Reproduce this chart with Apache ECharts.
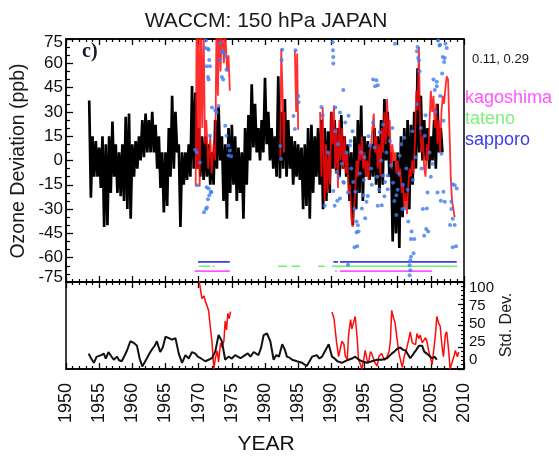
<!DOCTYPE html>
<html><head><meta charset="utf-8">
<script src="https://cdn.jsdelivr.net/npm/echarts@6/dist/echarts.min.js"></script>
<style>html,body{margin:0;padding:0;background:#fff}#c{width:559px;height:462px}</style>
</head><body><div id="c"></div>
<script>
// ---------- DATA ----------
const xTicks = [1950,1955,1960,1965,1970,1975,1980,1985,1990,1995,2000,2005,2010];
const devTicks = [-75,-60,-45,-30,-15,0,15,30,45,60,75];
const sdTicks = [0,25,50,75,100];

// WACCM model deviation (ppb), quarter-year samples starting 1953.5
const modelStart = 1953.5, modelStep = 0.25;
const modelDev = [
 37,-23, 15,-10, 12,-10, 8,-17, 15,-41, 10,-40, 15,-20, 24,-10, 10,-20, 5,-22,
 10,-25, 27,-30, 29,-36, 10,-10, 12,-5, 15,0, 25,2, 29,5, 25,5, 30,5,
 22,-5, 15,-17, 5,-32, 5,-28, 20,-10, 40,-5, 30,5, 10,-41, 5,-15, 5,-12,
 10,-10, 46,-5, 42,-5, 20,-10, 15,-12, 15,-10, 10,-15, 5,-15, 25,-5, 33,0,
 15,-25, 10,-36, 20,-20, 22,-15, 15,-25, 8,-20, 5,-36, 20,-15, 28,0, 47,8,
 35,5, 20,0, 25,5, 51,10, 30,0, 20,-5, 15,-10, 52,-11, 30,-5, 38,-10,
 25,-5, 15,-15, 12,-10, 10,-12, 8,-30, 10,-28, 20,-36, 22,-20, 15,-10, 20,-15,
 25,-30, 20,-25, 18,-20, 30,-5, 25,-8, 20,-10, 28,-5, 15,-10, 10,-25, 5,-40,
 15,-30, 25,-20, 34,-25, 15,-10, 12,-12, 10,-10, 20,-15, 15,-20, 25,-15, 38,0,
 30,-10, 5,-50, 0,-45, 5,-54, 15,-35, 20,-25, 25,-30, 22,-15, 30,-5, 57,5,
 40,0, 25,0, 20,-5, 15,0, 25,-5, 35,5, 20,5
];

// Observed (smoothed) deviation, red segments [year, ppb]
const obsRed1 = [[1969.55,-16],[1969.7,90],[1969.85,-5],[1970.0,90],[1970.15,-16],[1970.35,85],[1970.55,20],[1970.75,80],[1970.95,10],[1971.15,25],[1971.45,-5],[1971.75,15],[1971.95,-8],[1972.25,10],[1972.5,0],[1972.7,90],[1972.9,40],[1973.1,90],[1973.3,55],[1973.5,85],[1973.8,60],[1974.0,80],[1974.3,55],[1974.5,65],[1974.7,43]];
const obsRed2 = [[1982.3,2],[1982.45,69],[1982.65,40],[1982.85,5],[1982.95,30]];
const obsRed3 = [[1984.5,68],[1984.7,30],[1984.85,66],[1985.0,19]];
const obsRed4 = [[1988.3,30],[1988.5,-10],[1988.7,33],[1989.0,-25],[1989.2,10],[1989.4,-20],[1989.6,5],[1989.8,-15],[1990.0,30],[1990.2,10],[1990.4,34],[1990.6,-5],[1990.8,20],[1991.0,-17],[1991.2,25],[1991.4,0],[1991.6,20],[1991.8,-5],[1992.0,15],[1992.2,-8],[1992.4,5],[1992.6,-20],[1992.8,-15],[1993.0,-35],[1993.2,-41],[1993.4,-30],[1993.6,-20],[1993.8,0],[1994.0,-10],[1994.2,10],[1994.4,0],[1994.6,15],[1994.8,-5],[1995.0,5],[1995.2,-10],[1995.4,0],[1995.6,-12],[1995.8,5],[1996.0,10],[1996.2,20],[1996.4,29],[1996.6,5],[1996.8,15],[1997.0,-5],[1997.2,10],[1997.4,-10],[1997.6,20],[1997.8,5],[1998.0,30],[1998.2,10],[1998.4,38],[1998.6,15],[1998.8,25],[1999.0,-5],[1999.2,10],[1999.4,0],[1999.6,5],[1999.8,-8],[2000.0,0],[2000.2,-10],[2000.4,-5],[2000.6,-20],[2000.8,-15],[2001.0,-30],[2001.2,-20],[2001.4,-33],[2001.6,-15],[2001.8,-5],[2002.0,-10],[2002.2,0],[2002.4,-8],[2002.6,10],[2002.8,43],[2003.0,31],[2003.2,70],[2003.4,20],[2003.6,5],[2003.8,15],[2004.0,-5],[2004.2,-10],[2004.4,10],[2004.6,0],[2004.8,24],[2005.0,43],[2005.2,30],[2005.4,40],[2005.6,20],[2005.8,35],[2006.0,10],[2006.2,25],[2006.4,5],[2006.6,30],[2006.8,40],[2007.0,35],[2007.2,45],[2007.4,52],[2007.6,50],[2007.8,20],[2008.0,-10],[2008.2,-25],[2008.4,-30],[2008.6,-35]];

// Individual ozonesonde points (blue dots) [year, ppb]
const obsDots = [[1969.45,6.7],[1969.7,5.1],[1969.85,-15.3],[1970.2,-1.2],[1970.8,-32],[1971.0,69.4],[1971.1,74],[1971.1,-30],[1971.2,58.2],[1971.2,-16.5],[1971.25,-29],[1971.4,69],[1971.4,51.6],[1971.4,-23.9],[1971.5,68.4],[1971.5,50],[1971.5,-17.3],[1971.6,62],[1971.6,-21.4],[1971.7,58.2],[1971.7,15.3],[1971.85,-19.3],[1971.9,-19.6],[1972.0,32.7],[1972.5,31],[1972.7,29.6],[1973.0,33.7],[1973.2,72.5],[1973.2,62],[1973.5,67.4],[1973.5,51.6],[1973.7,50],[1973.7,67],[1974.0,64.3],[1974.0,21.4],[1974.2,56.1],[1974.2,15.3],[1974.5,9.2],[1974.5,3.1],[1974.7,6.1],[1974.9,2.6],
[1982.3,9],[1982.4,1],[1982.5,62],[1982.6,68.4],[1984.3,27.5],[1984.5,19.4],[1984.6,68],[1985.0,39.8],[1985.05,36],[1988.5,33],[1988.7,28],[1989.0,-28],[1989.5,5],
[1990.2,73],[1990.25,68],[1990.3,63.9],[1990.3,59.8],[1990.3,-18.8],[1990.5,-28],[1990.6,32.7],[1990.6,18],[1990.8,-7],[1990.9,-24.9],[1991.0,10],[1991.1,-10],[1991.3,29.6],[1991.3,-23.5],[1991.6,-2],[1991.8,43.5],[1991.8,-13.3],[1991.9,-13.7],[1992.1,23.5],[1992.3,5],[1992.5,-19.8],[1992.5,-64.3],[1992.6,27.6],[1992.8,9.2],[1992.9,12],[1993.0,-5],[1993.2,18],[1993.3,-13.3],[1993.5,-30],[1993.5,-53.5],[1993.6,-19.3],[1993.8,-37.7],[1993.8,-44.3],[1993.9,-53],[1994.0,-40],[1994.1,-43.9],[1994.3,-8],[1994.5,5],[1994.6,-29.6],[1994.8,-21.4],[1994.9,-12],[1995.0,2],[1995.1,-35.7],[1995.3,-25.5],[1995.5,-21.9],[1995.6,15],[1995.8,9.2],[1996.0,-5],[1996.1,-15],[1996.3,50],[1996.3,23.5],[1996.5,8],[1996.6,45.9],[1996.8,49.6],[1996.9,-10],[1997.0,46.5],[1997.0,-28],[1997.2,-18],[1997.3,17.4],[1997.5,0],[1997.6,-27.6],[1997.8,-9.2],[1997.8,22],[1998.0,-22],[1998.1,-13.3],[1998.3,5],[1998.5,-9.2],[1998.5,-17.8],[1998.8,12],[1999.0,-3],[1999.2,20],[1999.3,-13.7],[1999.5,-25],[1999.6,72],[1999.8,-21.4],[1999.8,-33.7],[2000.0,-18],[2000.2,-8],[2000.3,3],[2000.5,10],[2000.7,-30],[2000.8,-15],[2001.0,14],[2001.1,-29.6],[2001.3,-5],[2001.5,-18],[2001.6,-37.7],[2001.8,-64.7],[2001.8,-70.8],[2001.9,-61.7],[2001.9,-67.8],[2002.0,-59.4],[2002.0,-48.4],[2002.1,-43.9],[2002.2,18],[2002.3,-12],[2002.4,-57.3],[2002.5,-48.4],[2002.7,2],[2002.9,67.4],[2002.9,34.7],[2003.0,70],[2003.1,63.3],[2003.2,61.8],[2003.3,55.1],[2003.5,20],[2003.6,-5],[2003.8,-30],[2004.0,-46.4],[2004.1,15.3],[2004.2,28],[2004.3,-42.3],[2004.4,-29.6],[2004.5,-19.8],[2004.6,-43.9],[2004.8,5],[2005.0,-10],[2005.2,-2],[2005.4,50],[2005.6,43.5],[2005.7,30],[2005.9,48.6],[2005.9,45.9],[2006.0,-19.8],[2006.1,74],[2006.3,71],[2006.4,71.4],[2006.4,39.8],[2006.5,-24.9],[2006.6,4.1],[2006.7,53.7],[2006.8,63.9],[2006.9,24.5],[2006.9,-19.3],[2007.0,60.8],[2007.1,63.3],[2007.1,-25.5],[2007.2,72],[2007.4,69.4],[2007.9,-39.8],[2008.1,-25.5],[2008.1,-30],[2008.3,-14.7],[2008.3,-36],[2008.3,-53.5],[2008.6,-15.3],[2008.6,-39.8],[2008.8,-53],[2008.9,-17.3]];

// Station data coverage periods [start, end]
const kagoshimaPeriods = [[1969.4,1974.7],[1990.6,1990.8],[1991.3,2005.2]];
const tatenoPeriods = [[1970.0,1971.8],[1972.1,1972.4],[1982.0,1983.3],[1984.0,1985.3],[1988.0,1989.0],[1990.1,2009.0]];
const sapporoPeriods = [[1969.9,1974.7],[1990.3,1991.0],[1991.3,2008.9]];

// Standard deviation panel [year, value]
const sdModel = [[1953.4,17.7],[1953.8,12],[1954.2,7.1],[1954.6,14],[1954.9,12.4],[1955.3,16],[1955.7,17.7],[1956.0,12],[1956.4,19.5],[1956.8,15],[1957.2,10.6],[1957.7,14.2],[1958.0,10],[1958.4,8.9],[1958.8,15],[1959.2,21.3],[1959.7,31.9],[1960.2,30.1],[1960.7,26.6],[1961.1,12],[1961.5,3],[1962.2,12.4],[1962.6,18],[1963.0,23],[1963.4,27],[1963.7,31.9],[1964.2,19.5],[1964.6,25],[1965.0,37.2],[1965.5,35.5],[1966.0,33.7],[1966.5,35.5],[1967.0,17.7],[1967.5,7.1],[1968.0,16],[1968.5,12],[1969.0,19.5],[1969.5,17.7],[1969.9,14],[1970.3,12.4],[1971.0,8.9],[1971.5,10.6],[1972.0,12.4],[1972.5,20],[1973.0,39],[1973.5,31.9],[1974.0,10.6],[1974.5,14.2],[1975.0,12],[1975.5,16],[1976.3,12.4],[1977.0,16],[1977.4,18],[1977.8,14.2],[1978.3,19.5],[1979.0,16],[1979.4,24],[1979.8,39],[1980.3,40.8],[1980.8,31.9],[1981.3,10.6],[1981.7,16],[1982.1,14.2],[1982.6,28.4],[1983.0,22],[1983.3,14.2],[1983.7,13],[1984.1,10.6],[1984.8,8.9],[1985.6,7.1],[1986.3,3.5],[1987.1,14.2],[1987.8,16],[1988.2,12],[1988.6,14.2],[1989.1,21.3],[1989.6,28.4],[1990.1,14.2],[1990.5,12],[1990.9,8.9],[1991.6,7.1],[1992.1,9],[1992.6,10.6],[1993.1,12],[1993.6,14.2],[1994.1,11],[1994.6,8.9],[1995.4,7.1],[1996.1,8.9],[1996.9,10.6],[1997.6,10.6],[1998.4,12.4],[1999.1,17.7],[1999.5,20],[1999.9,23],[2000.4,24.8],[2000.8,22],[2001.2,21.3],[2001.9,12.4],[2002.4,17.7],[2002.8,22],[2003.2,26.6],[2003.7,26.6],[2004.0,20],[2004.4,17.7],[2004.8,15],[2005.2,12.4],[2005.6,14],[2005.9,10.6]];
const sdObs1 = [[1970.0,105],[1970.3,90],[1970.5,81],[1970.8,84],[1971.0,78],[1971.3,72],[1971.5,67],[1971.8,45],[1972.0,32],[1972.2,10],[1972.3,0],[1972.5,12],[1972.8,21],[1973.0,8],[1973.3,30],[1973.5,25],[1973.8,32],[1974.0,55],[1974.2,45],[1974.4,64],[1974.6,58],[1974.8,66]];
const sdObs2 = [[1990.1,65.6],[1990.4,58],[1990.6,56.7],[1990.8,30],[1991.1,14.2],[1991.4,25],[1991.6,31.9],[1991.9,28.4],[1992.1,15],[1992.4,10.6],[1992.6,39],[1992.9,56.7],[1993.1,46.1],[1993.4,55],[1993.6,60.3],[1993.9,35],[1994.1,10.6],[1994.4,5],[1994.6,0],[1994.9,12],[1995.1,21.3],[1995.4,10],[1995.6,7.1],[1995.9,20],[1996.1,17.7],[1996.5,8],[1996.9,3.5],[1997.2,15],[1997.6,17.7],[1998.0,10],[1998.4,14.2],[1998.7,20],[1998.9,31.9],[1999.1,67.4],[1999.4,58],[1999.6,53.2],[1999.9,35],[2000.2,17.7],[2000.5,8],[2000.7,1.8],[2001.0,15],[2001.4,24.8],[2001.7,35],[2001.9,42.6],[2002.2,30],[2002.4,31.9],[2002.7,28],[2002.9,40.8],[2003.2,35],[2003.4,39],[2003.7,30],[2003.9,31.9],[2004.2,36],[2004.4,31.9],[2004.7,20],[2004.9,14.2],[2005.2,5],[2005.4,7.1],[2005.7,40],[2005.9,60.3],[2006.2,52],[2006.4,49.6],[2006.7,25],[2006.9,14.2],[2007.2,40],[2007.4,42.6],[2007.7,20],[2007.9,0],[2008.2,0],[2008.5,15],[2008.7,21.3],[2009.0,14],[2009.2,19.5]];

// ---------- CHART ----------
const FONT = 'Liberation Sans, Arial, Helvetica, sans-serif';
const chart = echarts.init(document.getElementById('c'), null, {renderer:'canvas'});
const modelData = modelDev.map((v, i) => [modelStart + i * modelStep, v]);

function periodSeries(periods, level, color) {
  return periods.map(p => ({
    type: 'line', xAxisIndex: 0, yAxisIndex: 0, symbol: 'none', silent: true,
    data: [[p[0], level], [p[1], level]],
    lineStyle: {color: color, width: 1.6}, z: 4
  }));
}
function xAx(grid, pos, labels) {
  return {
    type: 'value', gridIndex: grid, position: pos, min: xTicks[0], max: xTicks[xTicks.length-1], interval: 5,
    axisLine: {show: true, onZero: false, lineStyle: {color: '#000', width: 1.5}},
    axisTick: {show: true, inside: true, length: 6, lineStyle: {color: '#000', width: 1.3}},
    minorTick: {show: true, splitNumber: 5, length: 3, lineStyle: {color: '#000', width: 1.2}},
    splitLine: {show: false},
    axisLabel: labels ? {show: true, rotate: 90, fontSize: 18, color: '#111', fontFamily: FONT, margin: 14,
      formatter: v => String(v)} : {show: false}
  };
}
const redTopSegs = [obsRed1, obsRed2, obsRed3, obsRed4].map(seg => ({
  type: 'line', xAxisIndex: 0, yAxisIndex: 0, symbol: 'none', data: seg,
  lineStyle: {color: '#ff0a0a', width: 1.8, opacity: 0.85}, z: 3
}));
const labStyle = {fontSize: 17, color: '#111', fontFamily: FONT};

const option = {
  animation: false,
  backgroundColor: '#fff',
  grid: [
    {left: 66, top: 39, width: 398, height: 243, show: true, borderColor: '#000', borderWidth: 1.5},
    {left: 66, top: 282, width: 398, height: 87, show: true, borderColor: '#000', borderWidth: 1.5}
  ],
  xAxis: [xAx(0, 'bottom', false), xAx(0, 'top', false), xAx(1, 'top', false), xAx(1, 'bottom', true)],
  yAxis: [
    {type: 'value', gridIndex: 0, position: 'left', min: devTicks[0], max: devTicks[devTicks.length-1], interval: 15,
     axisLine: {show: true, onZero: false, lineStyle: {color: '#000', width: 1.5}},
     axisTick: {show: true, inside: true, length: 7, lineStyle: {color: '#000', width: 1.3}},
     minorTick: {show: true, splitNumber: 3, length: 4, lineStyle: {color: '#000', width: 1.2}},
     splitLine: {show: false},
     axisLabel: Object.assign({}, labStyle, {margin: 3, showMinLabel: true, showMaxLabel: true,
       formatter: v => v === devTicks[0] ? '{lo|' + v + '}' : (v === devTicks[devTicks.length-1] ? '{hi|' + v + '}' : String(v)),
       rich: {lo: Object.assign({}, labStyle, {padding: [0, 0, 10, 0]}),
              hi: Object.assign({}, labStyle, {padding: [7, 0, 0, 0]})}})},
    // std-dev data axis (ticks, no labels)
    {type: 'value', gridIndex: 1, position: 'right', min: sdTicks[0], max: sdTicks[sdTicks.length-1], interval: 25,
     axisLine: {show: true, onZero: false, lineStyle: {color: '#000', width: 1.5}},
     axisTick: {show: true, inside: true, length: 6, lineStyle: {color: '#000', width: 1.3}},
     minorTick: {show: true, splitNumber: 5, length: 3, lineStyle: {color: '#000', width: 1.2}},
     splitLine: {show: false}, axisLabel: {show: false}},
    // std-dev label axis (labels placed as printed in the figure)
    {type: 'value', gridIndex: 1, position: 'right', min: -12.5, max: 108.33, interval: 12.5,
     axisLine: {show: false}, axisTick: {show: false}, splitLine: {show: false},
     axisLabel: {fontSize: 15, lineHeight: 12, color: '#111', fontFamily: FONT, margin: 5, showMinLabel: true, showMaxLabel: true,
       customValues: sdTicks, hideOverlap: false,
       formatter: v => sdTicks.indexOf(v) >= 0 ? String(v) : ''}}
  ],
  series: [
    {type: 'line', xAxisIndex: 0, yAxisIndex: 0, symbol: 'none', data: modelData,
     lineStyle: {color: '#000', width: 2.7}, z: 2},
    ...redTopSegs,
    {type: 'scatter', xAxisIndex: 0, yAxisIndex: 0, data: obsDots, symbolSize: 4,
     itemStyle: {color: '#3f7cf0'}, z: 5},
    ...periodSeries(sapporoPeriods, -62.6, '#3b3bea'),
    ...periodSeries(tatenoPeriods, -65.3, '#6ef06e'),
    ...periodSeries(kagoshimaPeriods, -68.3, '#ff55ff'),
    {type: 'line', xAxisIndex: 3, yAxisIndex: 1, symbol: 'none', data: sdModel,
     lineStyle: {color: '#111', width: 2}, z: 3},
    {type: 'line', xAxisIndex: 3, yAxisIndex: 1, symbol: 'none', data: sdObs1,
     lineStyle: {color: '#ff0a0a', width: 1.5}, z: 2},
    {type: 'line', xAxisIndex: 3, yAxisIndex: 1, symbol: 'none', data: sdObs2,
     lineStyle: {color: '#ff0a0a', width: 1.5}, z: 2}
  ],
  graphic: [
    {type: 'text', x: 266, y: 21, style: {text: 'WACCM: 150 hPa JAPAN', fontSize: 21, fontFamily: FONT, fill: '#1a1a1a', textAlign: 'center', textVerticalAlign: 'middle'}},
    {type: 'text', x: 82, y: 52, style: {text: 'c)', fontSize: 20, fontWeight: 'bold', fontFamily: 'Liberation Serif, DejaVu Serif, serif', fill: '#1a1a2a', textAlign: 'left', textVerticalAlign: 'middle'}},
    {type: 'text', x: 19, y: 161, rotation: Math.PI / 2, style: {text: 'Ozone Deviation (ppb)', fontSize: 19.5, fontFamily: FONT, fill: '#1a1a1a', textAlign: 'center', textVerticalAlign: 'middle'}},
    {type: 'text', x: 507, y: 325, rotation: Math.PI / 2, style: {text: 'Std. Dev.', fontSize: 16, fontFamily: FONT, fill: '#1a1a1a', textAlign: 'center', textVerticalAlign: 'middle'}},
    {type: 'text', x: 472, y: 59, style: {text: '0.11, 0.29', fontSize: 13, fontFamily: FONT, fill: '#1a1a1a', textAlign: 'left', textVerticalAlign: 'middle'}},
    {type: 'text', x: 465, y: 98, style: {text: 'kagoshima', fontSize: 18, fontFamily: FONT, fill: '#ff55ff', textAlign: 'left', textVerticalAlign: 'middle'}},
    {type: 'text', x: 465, y: 119, style: {text: 'tateno', fontSize: 18, fontFamily: FONT, fill: '#7cf07c', textAlign: 'left', textVerticalAlign: 'middle'}},
    {type: 'text', x: 465, y: 140, style: {text: 'sapporo', fontSize: 18, fontFamily: FONT, fill: '#3b3bf0', textAlign: 'left', textVerticalAlign: 'middle'}},
    {type: 'text', x: 266, y: 444, style: {text: 'YEAR', fontSize: 21, fontFamily: FONT, fill: '#111', textAlign: 'center', textVerticalAlign: 'middle'}}
  ]
};
chart.setOption(option);
</script>
</body></html>
